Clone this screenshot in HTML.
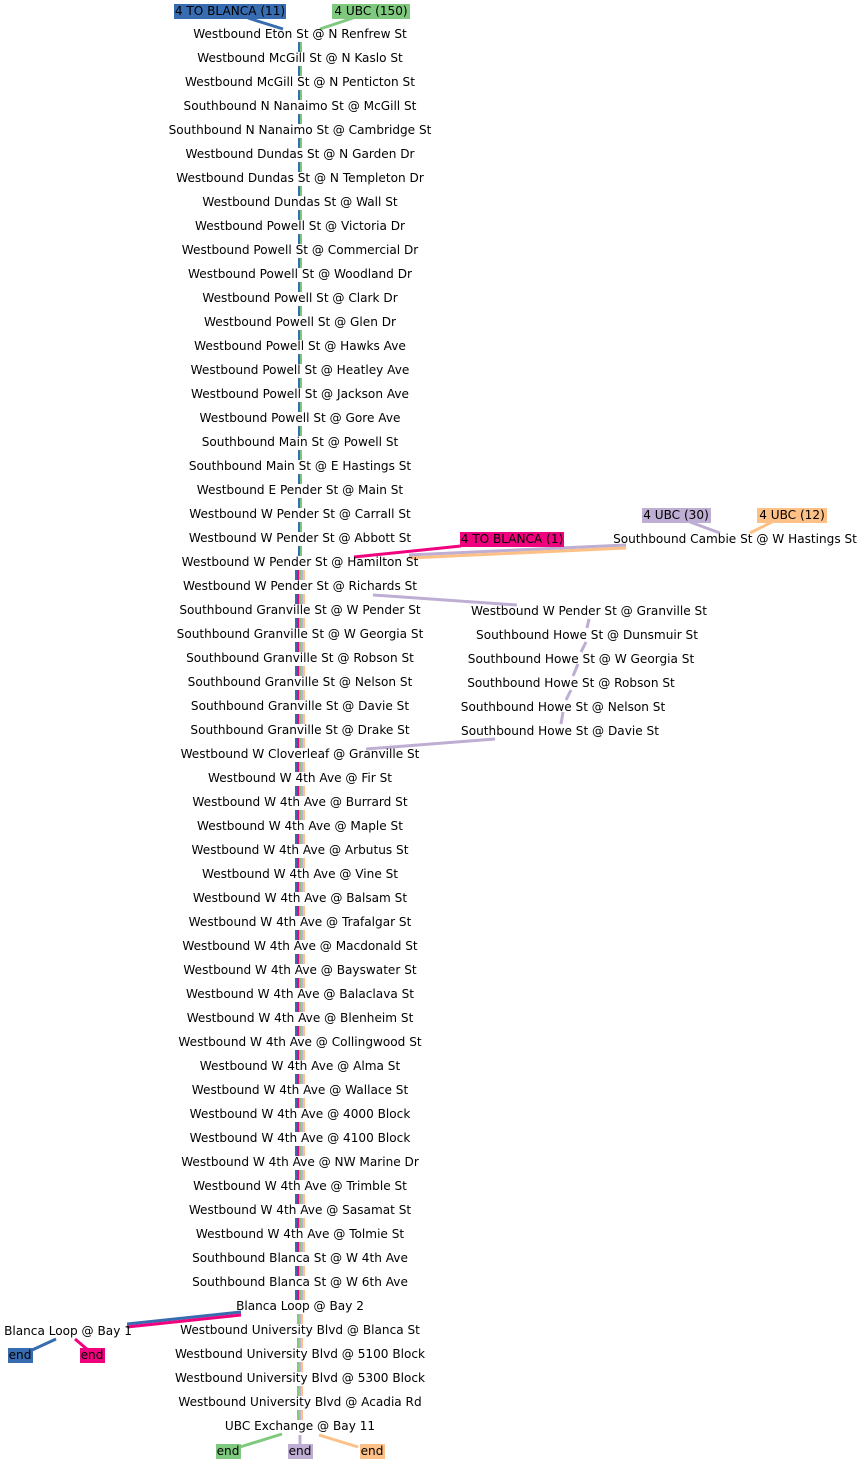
<!DOCTYPE html>
<html><head><meta charset="utf-8"><style>
html,body{margin:0;padding:0;background:#fff;}
svg{display:block}
text{font-family:"DejaVu Sans","Liberation Sans",sans-serif;font-size:12.1px;fill:#000;}
</style></head><body>
<svg width="864" height="1464" viewBox="0 0 864 1464" xmlns="http://www.w3.org/2000/svg">
<g id="bars"></g>
<g stroke-width="3" fill="none">
<line x1="248" y1="18" x2="283" y2="29" stroke="#386cb0"/>
<line x1="353" y1="18" x2="320" y2="29" stroke="#7fc97f"/>
<line x1="461" y1="546" x2="354" y2="557" stroke="#f0027f"/>
<line x1="626" y1="545" x2="409" y2="555" stroke="#beaed4"/>
<line x1="626" y1="548" x2="409" y2="558" stroke="#fdc086"/>
<line x1="690" y1="522" x2="720" y2="533" stroke="#beaed4"/>
<line x1="772" y1="522" x2="750" y2="533" stroke="#fdc086"/>
<line x1="373" y1="595" x2="517" y2="605" stroke="#beaed4"/>
<line x1="589" y1="619" x2="587" y2="628" stroke="#beaed4"/>
<line x1="586" y1="642" x2="581" y2="652" stroke="#beaed4"/>
<line x1="578" y1="664" x2="573" y2="676" stroke="#beaed4"/>
<line x1="571" y1="690" x2="566" y2="700" stroke="#beaed4"/>
<line x1="563" y1="712" x2="561" y2="724" stroke="#beaed4"/>
<line x1="495" y1="739" x2="366" y2="749" stroke="#beaed4"/>
<line x1="241" y1="1312" x2="127" y2="1324" stroke="#386cb0"/>
<line x1="241" y1="1315" x2="127" y2="1327" stroke="#f0027f"/>
<line x1="56" y1="1339" x2="30" y2="1351" stroke="#386cb0"/>
<line x1="75" y1="1339" x2="88" y2="1350" stroke="#f0027f"/>
<line x1="282" y1="1434" x2="240" y2="1447" stroke="#7fc97f"/>
<line x1="300" y1="1435" x2="300" y2="1446" stroke="#beaed4"/>
<line x1="319" y1="1435" x2="358" y2="1447" stroke="#fdc086"/>
</g>
<g>
<rect x="174" y="4" width="112" height="15" fill="#386cb0"/>
<rect x="332" y="4" width="78" height="15" fill="#7fc97f"/>
<rect x="460" y="532" width="104" height="15" fill="#f0027f"/>
<rect x="642" y="508" width="69" height="15" fill="#beaed4"/>
<rect x="757" y="508" width="70" height="15" fill="#fdc086"/>
<rect x="8" y="1348" width="25" height="15" fill="#386cb0"/>
<rect x="80" y="1348" width="25" height="15" fill="#f0027f"/>
<rect x="216" y="1444" width="25" height="15" fill="#7fc97f"/>
<rect x="288" y="1444" width="25" height="15" fill="#beaed4"/>
<rect x="360" y="1444" width="25" height="15" fill="#fdc086"/>
</g>
<g text-anchor="middle" id="labels">
<text x="230" y="15">4 TO BLANCA (11)</text>
<text x="371" y="15">4 UBC (150)</text>
<text x="512" y="543">4 TO BLANCA (1)</text>
<text x="676" y="519">4 UBC (30)</text>
<text x="792" y="519">4 UBC (12)</text>
<text x="735" y="543">Southbound Cambie St @ W Hastings St</text>
<text x="589" y="615">Westbound W Pender St @ Granville St</text>
<text x="587" y="639">Southbound Howe St @ Dunsmuir St</text>
<text x="581" y="663">Southbound Howe St @ W Georgia St</text>
<text x="571" y="687">Southbound Howe St @ Robson St</text>
<text x="563" y="711">Southbound Howe St @ Nelson St</text>
<text x="560" y="735">Southbound Howe St @ Davie St</text>
<text x="68" y="1335">Blanca Loop @ Bay 1</text>
<text x="20" y="1359">end</text>
<text x="92" y="1359">end</text>
<text x="228" y="1455">end</text>
<text x="300" y="1455">end</text>
<text x="372" y="1455">end</text>
</g>
<g text-anchor="middle" id="main"></g>
</svg>
<script>
var names=["Westbound Eton St @ N Renfrew St","Westbound McGill St @ N Kaslo St","Westbound McGill St @ N Penticton St","Southbound N Nanaimo St @ McGill St","Southbound N Nanaimo St @ Cambridge St","Westbound Dundas St @ N Garden Dr","Westbound Dundas St @ N Templeton Dr","Westbound Dundas St @ Wall St","Westbound Powell St @ Victoria Dr","Westbound Powell St @ Commercial Dr","Westbound Powell St @ Woodland Dr","Westbound Powell St @ Clark Dr","Westbound Powell St @ Glen Dr","Westbound Powell St @ Hawks Ave","Westbound Powell St @ Heatley Ave","Westbound Powell St @ Jackson Ave","Westbound Powell St @ Gore Ave","Southbound Main St @ Powell St","Southbound Main St @ E Hastings St","Westbound E Pender St @ Main St","Westbound W Pender St @ Carrall St","Westbound W Pender St @ Abbott St","Westbound W Pender St @ Hamilton St","Westbound W Pender St @ Richards St","Southbound Granville St @ W Pender St","Southbound Granville St @ W Georgia St","Southbound Granville St @ Robson St","Southbound Granville St @ Nelson St","Southbound Granville St @ Davie St","Southbound Granville St @ Drake St","Westbound W Cloverleaf @ Granville St","Westbound W 4th Ave @ Fir St","Westbound W 4th Ave @ Burrard St","Westbound W 4th Ave @ Maple St","Westbound W 4th Ave @ Arbutus St","Westbound W 4th Ave @ Vine St","Westbound W 4th Ave @ Balsam St","Westbound W 4th Ave @ Trafalgar St","Westbound W 4th Ave @ Macdonald St","Westbound W 4th Ave @ Bayswater St","Westbound W 4th Ave @ Balaclava St","Westbound W 4th Ave @ Blenheim St","Westbound W 4th Ave @ Collingwood St","Westbound W 4th Ave @ Alma St","Westbound W 4th Ave @ Wallace St","Westbound W 4th Ave @ 4000 Block","Westbound W 4th Ave @ 4100 Block","Westbound W 4th Ave @ NW Marine Dr","Westbound W 4th Ave @ Trimble St","Westbound W 4th Ave @ Sasamat St","Westbound W 4th Ave @ Tolmie St","Southbound Blanca St @ W 4th Ave","Southbound Blanca St @ W 6th Ave","Blanca Loop @ Bay 2","Westbound University Blvd @ Blanca St","Westbound University Blvd @ 5100 Block","Westbound University Blvd @ 5300 Block","Westbound University Blvd @ Acadia Rd","UBC Exchange @ Bay 11"];
var NS="http://www.w3.org/2000/svg",m=document.getElementById("main"),b=document.getElementById("bars");
names.forEach(function(n,i){var t=document.createElementNS(NS,"text");t.setAttribute("x",300);t.setAttribute("y",38+24*i);t.textContent=n;m.appendChild(t);
if(i<58){var y=35+24*i+7,cols,x0;
if(i<22){cols=["#386cb0","#7fc97f"];x0=298;}
else if(i<53){cols=["#386cb0","#f0027f","#7fc97f","#beaed4","#fdc086"];x0=295;}
else{cols=["#7fc97f","#beaed4","#fdc086"];x0=297;}
cols.forEach(function(c,k){var r=document.createElementNS(NS,"rect");r.setAttribute("x",x0+2*k);r.setAttribute("y",y);r.setAttribute("width",2);r.setAttribute("height",10);r.setAttribute("fill",c);b.appendChild(r);});}
});
</script>
</body></html>
